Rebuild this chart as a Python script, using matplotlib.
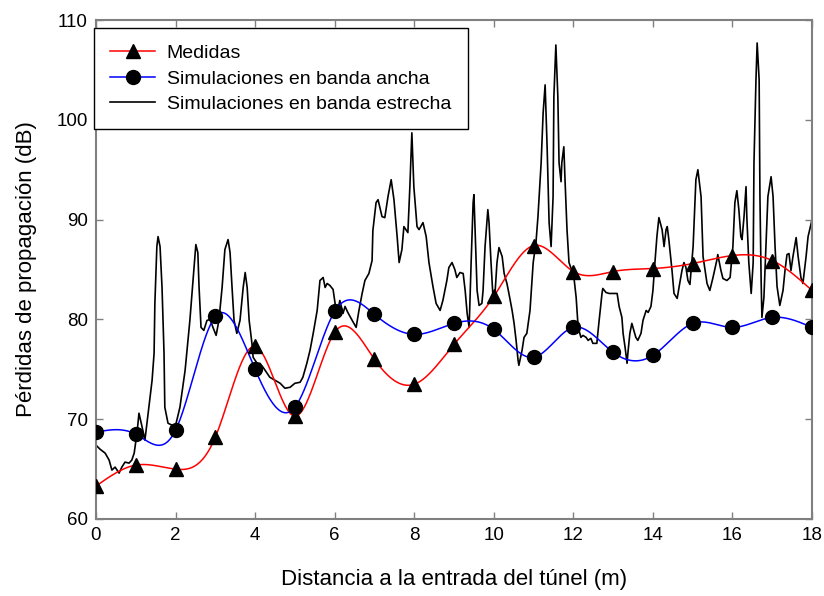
import numpy as np
import matplotlib
matplotlib.use("Agg")
from matplotlib import pyplot as plt
from matplotlib.lines import Line2D

# Medidas y simulación en banda ancha (un punto por metro)
dist = np.arange(0, 19)
medidas = [63.3, 65.4, 65.0, 68.2, 77.3, 70.3, 78.7, 76.0, 73.5, 77.5,
           82.3, 87.4, 84.8, 84.8, 85.1, 85.6, 86.4, 85.9, 82.9]
banda_ancha = [68.7, 68.5, 68.9, 80.3, 75.0, 71.2, 80.8, 80.5, 78.5, 79.6,
               79.0, 76.2, 79.2, 76.7, 76.4, 79.6, 79.2, 80.2, 79.2]

# Simulación en banda estrecha
dist_be = [0.00, 0.10, 0.23, 0.33, 0.40, 0.48, 0.58, 0.65, 0.73, 0.83, 0.90, 0.96,
           1.03, 1.08, 1.16, 1.23, 1.33, 1.41, 1.46, 1.48, 1.53, 1.56, 1.61, 1.66,
           1.71, 1.73, 1.81, 1.91, 1.99, 2.11, 2.24, 2.36, 2.46, 2.51, 2.56, 2.59,
           2.64, 2.71, 2.79, 2.87, 2.94, 3.02, 3.09, 3.17, 3.24, 3.32, 3.37, 3.42,
           3.47, 3.54, 3.62, 3.70, 3.75, 3.80, 3.85, 3.92, 3.95, 4.05, 4.12, 4.20,
           4.30, 4.37, 4.50, 4.63, 4.75, 4.88, 5.00, 5.13, 5.20, 5.30, 5.38, 5.46,
           5.56, 5.63, 5.71, 5.76, 5.81, 5.88, 5.96, 6.01, 6.06, 6.13, 6.21, 6.26,
           6.33, 6.44, 6.54, 6.61, 6.69, 6.76, 6.86, 6.94, 6.96, 7.04, 7.09, 7.19,
           7.26, 7.34, 7.42, 7.49, 7.57, 7.62, 7.69, 7.74, 7.79, 7.84, 7.89, 7.94,
           7.99, 8.07, 8.12, 8.22, 8.30, 8.37, 8.47, 8.55, 8.65, 8.72, 8.82, 8.87,
           8.95, 9.02, 9.07, 9.15, 9.23, 9.28, 9.33, 9.38, 9.43, 9.48, 9.50, 9.53,
           9.58, 9.63, 9.70, 9.73, 9.78, 9.85, 9.88, 9.93, 9.98, 10.03, 10.08, 10.13,
           10.21, 10.26, 10.33, 10.38, 10.46, 10.51, 10.56, 10.61, 10.63, 10.71, 10.76, 10.83,
           10.91, 10.99, 11.06, 11.11, 11.19, 11.24, 11.29, 11.34, 11.39, 11.44, 11.49, 11.51,
           11.56, 11.61, 11.64, 11.69, 11.71, 11.76, 11.79, 11.84, 11.89, 11.97, 12.02, 12.07,
           12.12, 12.19, 12.24, 12.32, 12.37, 12.44, 12.49, 12.59, 12.64, 12.72, 12.74, 12.82,
           12.90, 13.00, 13.10, 13.15, 13.22, 13.25, 13.30, 13.35, 13.37, 13.42, 13.47, 13.52,
           13.57, 13.62, 13.70, 13.75, 13.83, 13.88, 13.95, 14.00, 14.05, 14.10, 14.15, 14.23,
           14.28, 14.33, 14.36, 14.40, 14.48, 14.53, 14.61, 14.66, 14.73, 14.78, 14.83, 14.88,
           14.93, 15.01, 15.08, 15.13, 15.21, 15.26, 15.36, 15.43, 15.51, 15.61, 15.63, 15.71,
           15.76, 15.86, 15.94, 16.01, 16.06, 16.11, 16.16, 16.21, 16.24, 16.29, 16.34, 16.36,
           16.41, 16.47, 16.52, 16.54, 16.59, 16.62, 16.67, 16.69, 16.72, 16.74, 16.79, 16.84,
           16.89, 16.97, 17.02, 17.07, 17.12, 17.19, 17.27, 17.32, 17.37, 17.42, 17.47, 17.52,
           17.60, 17.65, 17.72, 17.77, 17.85, 17.90, 18.00]
banda_estrecha = [67.4, 67.0, 66.6, 65.9, 64.9, 65.2, 64.6, 65.2, 65.7, 65.6, 65.9, 66.6,
                  68.6, 70.6, 69.2, 67.9, 71.2, 73.9, 76.6, 81.6, 87.3, 88.3, 87.3, 83.2,
                  76.6, 71.2, 69.6, 69.4, 69.2, 71.2, 74.9, 79.9, 84.9, 87.5, 86.7, 83.3,
                  79.2, 78.9, 79.9, 80.0, 79.2, 78.4, 79.9, 83.2, 87.0, 88.0, 86.7, 83.2,
                  79.9, 78.6, 79.9, 83.2, 84.7, 83.2, 79.9, 77.6, 76.2, 75.6, 75.6, 75.2,
                  74.6, 74.2, 73.9, 73.6, 73.1, 73.2, 73.6, 73.7, 74.2, 75.6, 76.9, 78.6,
                  80.9, 83.9, 84.2, 83.2, 83.6, 83.4, 83.0, 81.6, 80.6, 81.9, 80.6, 81.3,
                  80.7, 79.9, 79.2, 80.9, 82.6, 83.9, 84.6, 85.9, 88.9, 91.7, 92.0, 90.3,
                  90.2, 92.3, 94.0, 92.0, 88.3, 85.7, 87.0, 89.3, 89.0, 88.7, 93.3, 98.7,
                  93.3, 89.3, 89.0, 89.7, 88.3, 85.7, 83.3, 81.6, 80.9, 81.9, 83.9, 85.2,
                  85.7, 85.0, 84.2, 84.7, 84.6, 82.9, 80.6, 79.2, 85.7, 91.7, 92.5, 89.0,
                  82.9, 81.4, 81.6, 82.9, 87.3, 91.0, 89.7, 85.7, 82.2, 82.6, 85.7, 87.2,
                  86.3, 84.6, 83.6, 82.6, 80.9, 79.6, 77.9, 75.9, 75.4, 76.9, 78.2, 78.6,
                  80.9, 85.7, 87.7, 90.3, 95.7, 100.7, 103.5, 97.3, 89.7, 87.3, 92.3, 102.3,
                  107.5, 102.3, 95.7, 93.8, 95.7, 97.3, 94.0, 89.0, 85.7, 84.8, 84.0, 82.2,
                  79.2, 78.2, 78.4, 78.2, 77.9, 78.1, 77.6, 77.6, 79.6, 82.6, 83.1, 82.7,
                  82.6, 82.6, 82.6, 81.3, 80.2, 78.6, 77.2, 75.6, 76.6, 78.6, 79.6, 78.9,
                  78.2, 77.9, 78.6, 79.9, 80.9, 80.7, 81.3, 82.9, 85.7, 88.3, 90.2, 89.0,
                  87.3, 89.0, 89.3, 88.0, 84.9, 82.6, 82.1, 83.3, 84.9, 85.7, 85.2, 83.9,
                  83.5, 87.3, 94.0, 95.0, 92.3, 86.3, 83.6, 82.9, 84.2, 86.0, 86.5, 84.9,
                  84.1, 83.9, 84.2, 87.3, 91.7, 92.9, 91.0, 88.3, 88.0, 90.3, 93.3, 90.3,
                  85.7, 82.6, 85.7, 95.7, 104.0, 107.7, 104.0, 92.3, 83.9, 80.2, 82.2, 87.3,
                  92.3, 94.3, 92.3, 87.3, 83.3, 81.4, 82.9, 84.9, 86.5, 86.6, 84.9, 86.3,
                  88.2, 86.3, 84.2, 83.6, 86.3, 88.3, 90.0]


def spline_natural(x, y, xs):
    """Spline cúbico natural evaluado en xs."""
    x = np.asarray(x, float)
    y = np.asarray(y, float)
    n = len(x)
    h = np.diff(x)
    A = np.zeros((n, n))
    b = np.zeros(n)
    A[0, 0] = A[-1, -1] = 1.0
    for i in range(1, n - 1):
        A[i, i - 1] = h[i - 1]
        A[i, i] = 2 * (h[i - 1] + h[i])
        A[i, i + 1] = h[i]
        b[i] = 6 * ((y[i + 1] - y[i]) / h[i] - (y[i] - y[i - 1]) / h[i - 1])
    M = np.linalg.solve(A, b)
    k = np.clip(np.searchsorted(x, xs) - 1, 0, n - 2)
    t0 = x[k + 1] - xs
    t1 = xs - x[k]
    hk = h[k]
    return (M[k] * t0 ** 3 / (6 * hk) + M[k + 1] * t1 ** 3 / (6 * hk)
            + (y[k] / hk - M[k] * hk / 6) * t0
            + (y[k + 1] / hk - M[k + 1] * hk / 6) * t1)


plt.rcParams['font.family'] = ['Liberation Sans', 'DejaVu Sans']

fig = plt.figure(figsize=(8.24, 5.96), dpi=100)
ax = fig.add_axes([0.1165, 0.1292, 0.869, 0.8372])

xs = np.linspace(0, 18, 900)
ax.plot(xs, spline_natural(dist, medidas, xs), color='red', lw=1.1, zorder=3)
ax.plot(dist, medidas, ls='none', marker='^', ms=10, color='black', zorder=4)
ax.plot(xs, spline_natural(dist, banda_ancha, xs), color='blue', lw=1.1, zorder=3)
ax.plot(dist, banda_ancha, ls='none', marker='o', ms=10, color='black', zorder=4)
ax.plot(dist_be, banda_estrecha, color='black', lw=1.2, zorder=2)

ax.set_xlim(0, 18)
ax.set_ylim(60, 110)
ax.set_xticks(np.arange(0, 19, 2))
ax.set_yticks(np.arange(60, 111, 10))
ax.tick_params(direction='in', top=True, right=True, length=5, width=1,
               color='#808080', labelsize=13.5, pad=6)
for s in ax.spines.values():
    s.set_color('#808080')
    s.set_linewidth(1.5)

ax.set_xlabel('Distancia a la entrada del túnel (m)', fontsize=16, labelpad=18)
ax.set_ylabel('Pérdidas de propagación (dB)', fontsize=16, labelpad=14)

handles = [
    Line2D([], [], color='red', lw=1.1, marker='^', ms=10, mfc='black', mec='black'),
    Line2D([], [], color='blue', lw=1.1, marker='o', ms=10, mfc='black', mec='black'),
    Line2D([], [], color='black', lw=1.2),
]
labels = ['Medidas', 'Simulaciones en banda ancha', 'Simulaciones en banda estrecha']
leg = ax.legend(handles, labels, loc='upper left', bbox_to_anchor=(-0.003, 0.984),
                borderaxespad=0, fancybox=False, framealpha=1, edgecolor='black',
                borderpad=0.85, labelspacing=0.4, handlelength=2.3,
                handletextpad=0.6, fontsize=14)
leg.get_frame().set_linewidth(1.0)

fig.savefig('out.png', dpi=100)
